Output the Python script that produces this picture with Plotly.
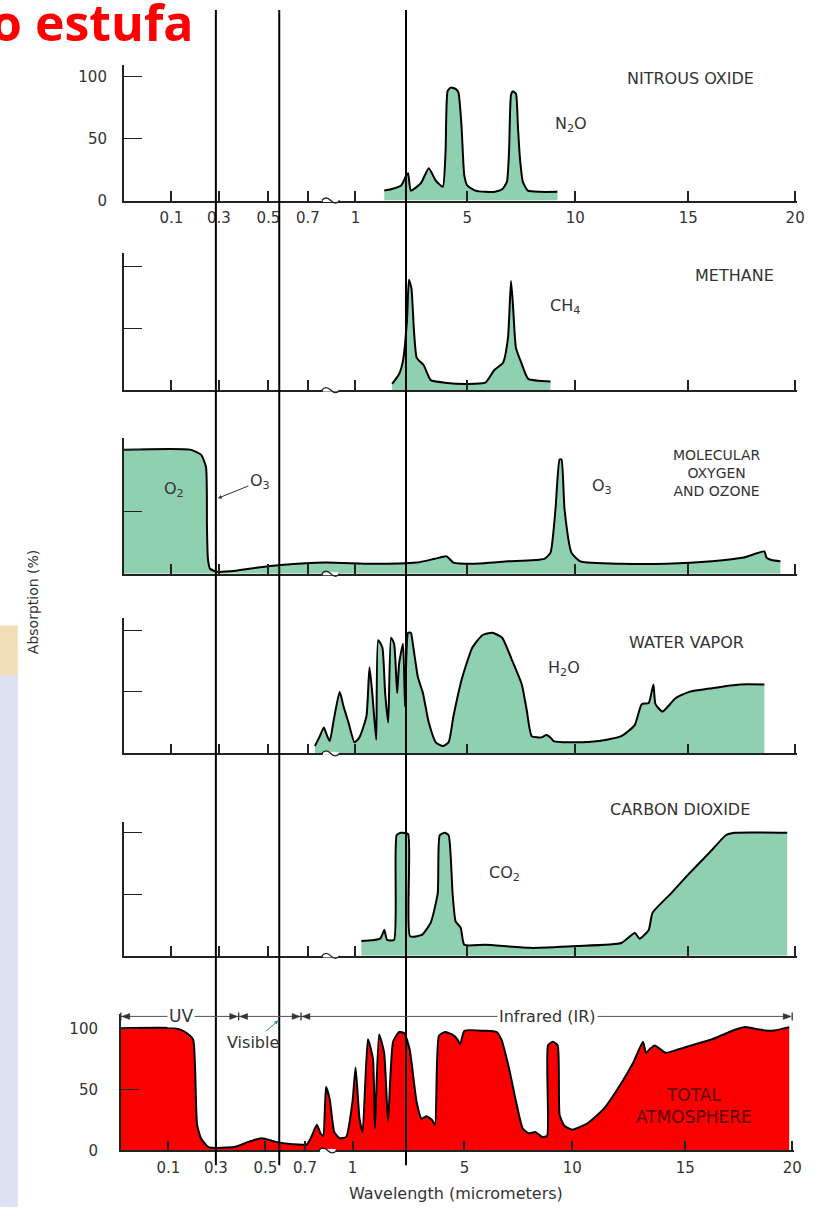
import numpy as np
import plotly.graph_objects as go

W, H = 819, 1216

# ---------------- axis (printed wavelength scale is piecewise / broken) ----------------
TICK_WL = [0.1, 0.3, 0.5, 0.7, 1, 5, 10, 15, 20]
TICK_TEXT = ["0.1", "0.3", "0.5", "0.7", "1", "5", "10", "15", "20"]
SCALE_WL = [0, 0.1, 0.3, 0.5, 0.7, 1, 5, 10, 15, 20]
SCALE_U = [0, 48, 96, 146, 186, 234, 347, 456, 570, 678]


def to_u(wl):
    return np.interp(np.asarray(wl, dtype=float), SCALE_WL, SCALE_U)


# ---------------- data: wavelength (micrometers) and absorption (%) ----------------
N2O_WL = [2.03, 2.27, 2.63, 2.81, 2.88, 2.98, 3.34, 3.62, 3.87, 4.12, 4.22, 4.29, 4.40, 4.58,
          4.68, 4.79, 4.89, 5.0, 5.37, 5.83, 6.28, 6.61, 6.83, 6.93, 7.02, 7.11, 7.25, 7.34,
          7.43, 7.57, 7.80, 8.35, 9.17]
N2O_ABS = [8, 9, 12, 20, 22, 8, 14, 26, 16, 11, 40, 88, 91, 90, 87, 60, 20, 12, 8, 7, 7, 9,
           15, 40, 85, 88, 86, 60, 35, 15, 8, 7, 7]

CH4_WL = [2.31, 2.56, 2.70, 2.84, 2.91, 3.00, 3.09, 3.19, 3.44, 3.69, 4.19, 4.98, 5.83, 6.24,
          6.65, 6.88, 7.02, 7.11, 7.25, 7.52, 7.82, 8.85]
CH4_ABS = [5, 13, 24, 56, 89, 82, 48, 26, 20, 8, 6, 5, 6, 16, 22, 42, 88, 69, 34, 21, 9, 7]

O2O3_WL = [0.0, 0.179, 0.225, 0.246, 0.25, 0.254, 0.263, 0.292, 0.368, 0.458, 0.5625, 0.8125,
           1.57, 3.19, 3.83, 4.26, 4.50, 5.18, 6.88, 8.56, 8.85, 9.08, 9.27, 9.36, 9.50, 9.82,
           10.22, 12.04, 14.04, 16.11, 17.59, 18.56, 18.66, 18.89, 19.31]
O2O3_ABS = [100, 100, 96, 86, 38, 12, 4, 1.6, 2.4, 5, 7, 9, 8, 9, 12, 14, 9, 8, 10, 12, 17, 52,
            92, 92, 52, 17, 10, 8, 8, 10, 13, 18, 13, 11, 10]

H2O_WL = [0.744, 0.775, 0.80, 0.819, 0.8375, 0.8625, 0.90, 0.925, 0.956, 0.994, 1.14, 1.39,
          1.50, 1.60, 1.74, 1.81, 1.96, 2.06, 2.17, 2.27, 2.38, 2.49, 2.56, 2.70, 2.77, 2.88,
          2.98, 3.05, 3.23, 3.41, 3.62, 3.87, 4.12, 4.33, 4.50, 4.82, 5.23, 5.69, 6.15, 6.61,
          7.06, 7.52, 7.75, 7.98, 8.44, 8.67, 8.90, 8.99, 10.04, 11.03, 12.04, 12.63, 12.94,
          13.25, 13.46, 13.55, 13.86, 14.45, 15.05, 16.11, 17.41, 18.56]
H2O_ABS = [6, 14, 21, 15, 10, 27, 50, 38, 25, 9, 13, 30, 70, 49, 11, 92, 86, 49, 25, 94, 89,
           49, 73, 89, 38, 98, 98, 89, 62, 49, 25, 9, 6, 9, 30, 62, 86, 96, 98, 94, 76, 56, 35,
           14, 13, 15, 12, 10, 9, 10, 14, 23, 40, 41, 56, 40, 34, 45, 50, 53, 56, 56]

CO2_WL = [1.21, 1.88, 2.03, 2.13, 2.38, 2.47, 2.63, 2.88, 2.95, 3.37, 3.69, 3.94, 4.01, 4.19,
          4.33, 4.47, 4.58, 4.76, 4.89, 5.83, 7.94, 10.04, 12.04, 12.63, 12.85, 13.25, 13.42,
          14.25, 15.05, 16.11, 16.76, 17.18, 19.63]
CO2_ABS = [12, 14, 21, 13, 13, 98, 100, 99, 16, 17, 27, 51, 98, 100, 98, 51, 28, 23, 9, 9, 6.5,
           8, 10.5, 18.5, 14, 21, 35, 51, 67, 86, 98, 100, 100]

TOT_WL = [0.0, 0.129, 0.171, 0.204, 0.2125, 0.221, 0.2375, 0.267, 0.308, 0.378, 0.431, 0.484,
          0.553, 0.637, 0.712, 0.740, 0.775, 0.798, 0.815, 0.833, 0.856, 0.885, 0.919, 0.960,
          1.0, 1.11, 1.25, 1.36, 1.55, 1.73, 1.80, 1.95, 2.13, 2.27, 2.45, 2.67, 2.85, 3.04,
          3.29, 3.47, 3.65, 3.84, 3.95, 4.09, 4.31, 4.56, 4.75, 4.85, 5.0, 5.90, 6.49, 6.71,
          7.07, 7.39, 7.70, 7.97, 8.29, 8.60, 8.83, 8.87, 9.10, 9.32, 9.41, 9.64, 10.0, 10.65,
          11.39, 12.13, 12.70, 13.13, 13.26, 13.43, 13.65, 14.13, 14.74, 15.47, 16.26, 17.06,
          17.80, 18.46, 19.07, 19.86]
TOT_ABS = [100, 100, 97, 91, 67, 21, 10, 3, 2, 3, 7, 10, 7, 5, 5, 11, 21, 14, 12, 52, 42, 15,
           10, 11, 40, 68, 26, 15, 91, 75, 18, 95, 80, 24, 89, 97, 96, 83, 40, 26, 28, 25, 21,
           94, 97, 95, 91, 87, 98, 98, 97, 91, 67, 40, 18, 14, 15, 11, 12, 86, 89, 86, 29, 20,
           17, 22, 34, 54, 72, 89, 80, 83, 86, 80, 83, 87, 91, 97, 101, 99, 98, 101]

GREEN = "#8fd0b0"
RED = "#fb0000"
TXT = "#333333"
FONT = "DejaVu Sans"


def X(px):
    return px / W


def Y(py):
    return 1 - py / H


# (wl, abs, fill colour, baseline px, 100% px, axis top px, axis left px, labelled?)
panels = [
    (N2O_WL, N2O_ABS, GREEN, 202, 77, 65, 125, True),
    (CH4_WL, CH4_ABS, GREEN, 393, 268, 255, 125, False),
    (O2O3_WL, O2O3_ABS, GREEN, 578, 453, 441, 125, False),
    (H2O_WL, H2O_ABS, GREEN, 759, 635, 623, 125, False),
    (CO2_WL, CO2_ABS, GREEN, 963, 839, 828, 125, False),
    (TOT_WL, TOT_ABS, RED, 1159, 1036, 1022, 122, True),
]

fig = go.Figure()
layout_axes = {}
shapes = []
for i, (wl, ab, fc, base, y100, top, x0, lab) in enumerate(panels, start=1):
    xa = "x" if i == 1 else f"x{i}"
    ya = "y" if i == 1 else f"y{i}"
    fig.add_trace(go.Scatter(
        x=to_u(wl), y=ab, xaxis=xa, yaxis=ya, mode="lines",
        line=dict(color="black", width=2, shape="spline", smoothing=0.5),
        fill="tozeroy", fillcolor=fc, hoverinfo="skip", showlegend=False))
    ymax = 100 * (base - top) / (base - y100)
    xkey = "xaxis" if i == 1 else f"xaxis{i}"
    ykey = "yaxis" if i == 1 else f"yaxis{i}"
    layout_axes[xkey] = dict(
        domain=[X(x0), X(x0 + 680)], range=[0, 680], anchor=ya,
        showline=True, linecolor="#222", linewidth=1.6, ticks="inside", ticklen=10,
        tickwidth=1.6, tickcolor="#222", tickvals=list(to_u(TICK_WL)), ticktext=TICK_TEXT,
        showticklabels=lab, tickfont=dict(family=FONT, size=15, color=TXT),
        ticklabelstandoff=3, showgrid=False, zeroline=False, fixedrange=True)
    layout_axes[ykey] = dict(
        domain=[Y(base), Y(top)], range=[0, ymax], anchor=xa,
        showline=True, linecolor="#222", linewidth=1.6, ticks="inside", ticklen=18,
        tickwidth=1.4, tickcolor="#222",
        tickvals=[0, 50, 100] if lab else [50, 100],
        ticktext=["0", "50", "100"] if lab else ["50", "100"],
        showticklabels=lab, tickfont=dict(family=FONT, size=15, color=TXT),
        ticklabelstandoff=12 if i == 1 else 18,
        showgrid=False, zeroline=False, fixedrange=True)
    # axis-break squiggle
    bx0 = x0 + 200
    shapes.append(dict(type="line", xref="paper", yref="paper", x0=X(bx0 + 1), x1=X(bx0 + 17),
                       y0=Y(base), y1=Y(base), line=dict(color="white", width=3), layer="above"))
    shapes.append(dict(type="path", xref="paper", yref="paper", layer="above",
                       path=(f"M {X(bx0)},{Y(base)} Q {X(bx0 + 4)},{Y(base - 5)} {X(bx0 + 9)},{Y(base)} "
                             f"T {X(bx0 + 18)},{Y(base)}"),
                       line=dict(color="#222", width=1.4)))

# left background strip of the slide
shapes.append(dict(type="rect", xref="paper", yref="paper", x0=0, x1=X(18), y0=Y(680), y1=Y(630),
                   fillcolor="#f1dfb8", line=dict(width=0), layer="below"))
shapes.append(dict(type="rect", xref="paper", yref="paper", x0=0, x1=X(18), y0=Y(1216), y1=Y(680),
                   fillcolor="#dde1f1", line=dict(width=0), layer="below"))

# overlaid vertical guide lines
for gx in (218, 282, 410):
    shapes.append(dict(type="line", xref="paper", yref="paper", x0=X(gx), x1=X(gx),
                       y0=Y(1174), y1=Y(10), line=dict(color="black", width=2), layer="above"))

# UV / Visible / IR range arrows
ay = 1024
shapes.append(dict(type="line", xref="paper", yref="paper", x0=X(122), x1=X(797), y0=Y(ay), y1=Y(ay),
                   line=dict(color="#555", width=1)))
for bx in (122, 241, 304, 800):
    shapes.append(dict(type="line", xref="paper", yref="paper", x0=X(bx), x1=X(bx),
                       y0=Y(ay + 4), y1=Y(ay - 4), line=dict(color="#333", width=1.3)))


def tri(tip, d):
    return dict(type="path", xref="paper", yref="paper",
                path=f"M {X(tip)},{Y(ay)} L {X(tip - 8 * d)},{Y(ay - 3)} L {X(tip - 8 * d)},{Y(ay + 3)} Z",
                fillcolor="#333", line=dict(color="#333", width=0.5))


for tip, d in ((123, -1), (240, 1), (242, -1), (303, 1), (305, -1), (799, 1)):
    shapes.append(tri(tip, d))

annotations = []


def ann(text, px, py, size=16, color=TXT, family=FONT, **kw):
    d = dict(text=text, x=X(px), y=Y(py), xref="paper", yref="paper", showarrow=False,
             font=dict(family=family, size=size, color=color), xanchor="center", yanchor="middle")
    d.update(kw)
    annotations.append(d)


ann("<b>o estufa</b>", 197, 22, size=50, color="#ff0000", family="Open Sans", xanchor="right")
ann("NITROUS OXIDE", 697, 79)
ann("N<sub>2</sub>O", 577, 125)
ann("METHANE", 742, 278)
ann("CH<sub>4</sub>", 571, 309)
ann("MOLECULAR<br>OXYGEN<br>AND OZONE", 724, 477, size=14)
ann("O<sub>2</sub>", 176, 493)
ann("O<sub>3</sub>", 608, 490)
ann("O<sub>3</sub>", 220, 502, showarrow=True, ax=42, ay=-17, arrowhead=2, arrowsize=0.8,
    arrowwidth=1, arrowcolor="#333")
ann("WATER VAPOR", 693, 647)
ann("H<sub>2</sub>O", 570, 673)
ann("CARBON DIOXIDE", 687, 816)
ann("CO<sub>2</sub>", 509, 880)
ann("TOTAL<br>ATMOSPHERE", 701, 1114, size=17, color="#5a0000")
ann("Absorption (%)", 33, 607, size=14, textangle=-90)
ann("Wavelength (micrometers)", 460, 1202)
ann("UV", 183, ay, size=17, bgcolor="white")
ann("Infrared (IR)", 553, ay, bgcolor="white")
ann("Visible", 281, 1028, showarrow=True, ax=-25, ay=22, arrowhead=2, arrowsize=0.8,
    arrowwidth=1, arrowcolor="#2a8aa0")

fig.update_layout(
    width=W, height=H, autosize=False,
    margin=dict(l=0, r=0, t=0, b=0),
    paper_bgcolor="white", plot_bgcolor="rgba(0,0,0,0)",
    shapes=shapes, annotations=annotations, showlegend=False,
    **layout_axes)

fix_page = (
    "document.documentElement.style.margin='0';"
    "document.documentElement.style.overflow='hidden';"
    "document.body.style.margin='0';"
    "document.body.style.overflow='hidden';"
    "document.querySelectorAll('.svg-container').forEach(function(e){e.style.display='block';});"
    "document.querySelectorAll('.plotly-graph-div').forEach(function(e){e.style.display='block';});"
)

fig.write_html("out.html", post_script=fix_page, config={"displayModeBar": False})
